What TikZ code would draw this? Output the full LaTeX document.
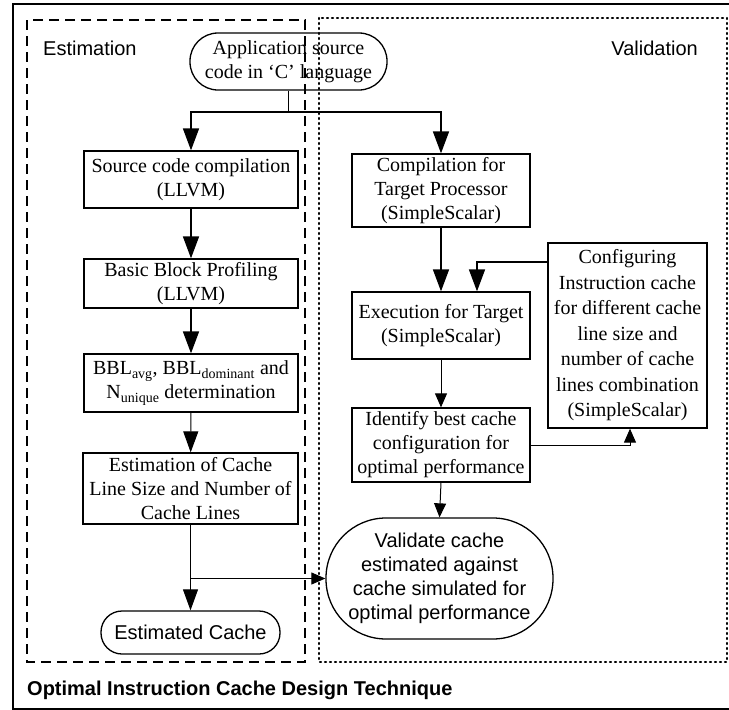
\documentclass[tikz,border=0pt]{standalone}
\usepackage{fontspec}
\setmainfont{Liberation Serif}
\setsansfont{Liberation Sans}
\usetikzlibrary{arrows.meta}
\begin{document}
\begin{tikzpicture}[x=1pt,y=-1pt,
  every node/.style={inner sep=0pt, align=center, font=\fontsize{20}{24}\selectfont},
  boxnode/.style={draw, line width=1.3pt},
  roundnode/.style={draw, line width=1.3pt, font=\sffamily\fontsize{20}{24}\selectfont},
  bigarr/.style={line width=1.6pt, -{Triangle[length=22pt 0 0,width=16pt 0 0]}},
  thinarr/.style={line width=1pt, -{Triangle[length=21pt 0 0,width=15pt 0 0]}},
  smallarr/.style={line width=1pt, -{Triangle[length=14pt 0 0,width=12pt 0 0]}},
  lbl/.style={font=\sffamily\fontsize{20}{24}\selectfont},
]
\useasboundingbox (0,0) rectangle (729,710);
% frames
\draw[line width=2.6pt] (13,4) rectangle (732,709);
\draw[line width=1.8pt, dash pattern=on 10pt off 6pt] (27,20) rectangle (305,662);
\draw[line width=2.2pt, line cap=round, dash pattern=on 1pt off 4pt] (319,18) rectangle (727,662);
\node[lbl, anchor=west] (estl) at (43,48) {Estimation};
\node[lbl, anchor=east] (vall) at (698,48) {Validation};
\node[lbl, anchor=west, font=\sffamily\bfseries\fontsize{20}{24}\selectfont] (title) at (27,690) {Optimal Instruction Cache Design Technique};

% left column
\node[boxnode, rounded corners=28pt, minimum width=197pt, minimum height=57pt] (app) at (288.5,61.5) {Application source\\code in ‘C’ language};
\node[boxnode, minimum width=214pt, minimum height=57pt] (src) at (191,179.5) {Source code compilation\\(LLVM)};
\node[boxnode, minimum width=214pt, minimum height=49pt] (bbp) at (191,283.5) {Basic Block Profiling\\(LLVM)};
\node[boxnode, minimum width=214pt, minimum height=58pt] (bbl) at (191,383) {BBL\textsubscript{avg}, BBL\textsubscript{dominant} and\\N\textsubscript{unique} determination};
\node[boxnode, minimum width=215pt, minimum height=71pt] (est) at (190.5,488.5) {Estimation of Cache\\Line Size and Number of\\Cache Lines};
\node[roundnode, rounded corners=21pt, minimum width=179pt, minimum height=43pt] (estc) at (190.5,632.5) {Estimated Cache};

% right column
\node[boxnode, minimum width=178pt, minimum height=73pt] (comp) at (441,190.5) {Compilation for\\Target Processor\\(SimpleScalar)};
\node[boxnode, minimum width=178pt, minimum height=67pt] (exe) at (441,325.5) {Execution for Target\\(SimpleScalar)};
\node[boxnode, minimum width=178pt, minimum height=74pt] (idf) at (441,445) {Identify best cache\\configuration for\\optimal performance};
\node[boxnode, minimum width=159pt, minimum height=185pt, font=\fontsize{20}{25.5}\selectfont] (cfg) at (627.5,335.5) {Configuring\\Instruction cache\\for different cache\\line size and\\number of cache\\lines combination\\(SimpleScalar)};
\node[roundnode, rounded corners=60pt, minimum width=227pt, minimum height=121pt] (val) at (439.5,578.5) {Validate cache\\estimated against\\cache simulated for\\optimal performance};

% connectors
\coordinate (split) at (288.5,112);
\draw[bigarr] (app.south) -- (split) -| (src.north);
\draw[bigarr] (split) -| (comp.north);
\draw[bigarr] (src) -- (bbp);
\draw[bigarr] (bbp) -- (bbl);
\draw[thinarr] (bbl) -- (est);
\draw[thinarr] (est) -- (estc);
\draw[smallarr] (est.south |- val.west) -- (val.west);
\draw[bigarr] (comp) -- (exe);
\draw[bigarr] (cfg.west |- 0,262) -| (exe.north -| 477,0);
\draw[smallarr] (exe) -- (idf);
\draw[smallarr] (idf.east) -| (cfg.south -| 630,0);
\draw[smallarr] (idf.south) -- (val.north);
\end{tikzpicture}
\end{document}
